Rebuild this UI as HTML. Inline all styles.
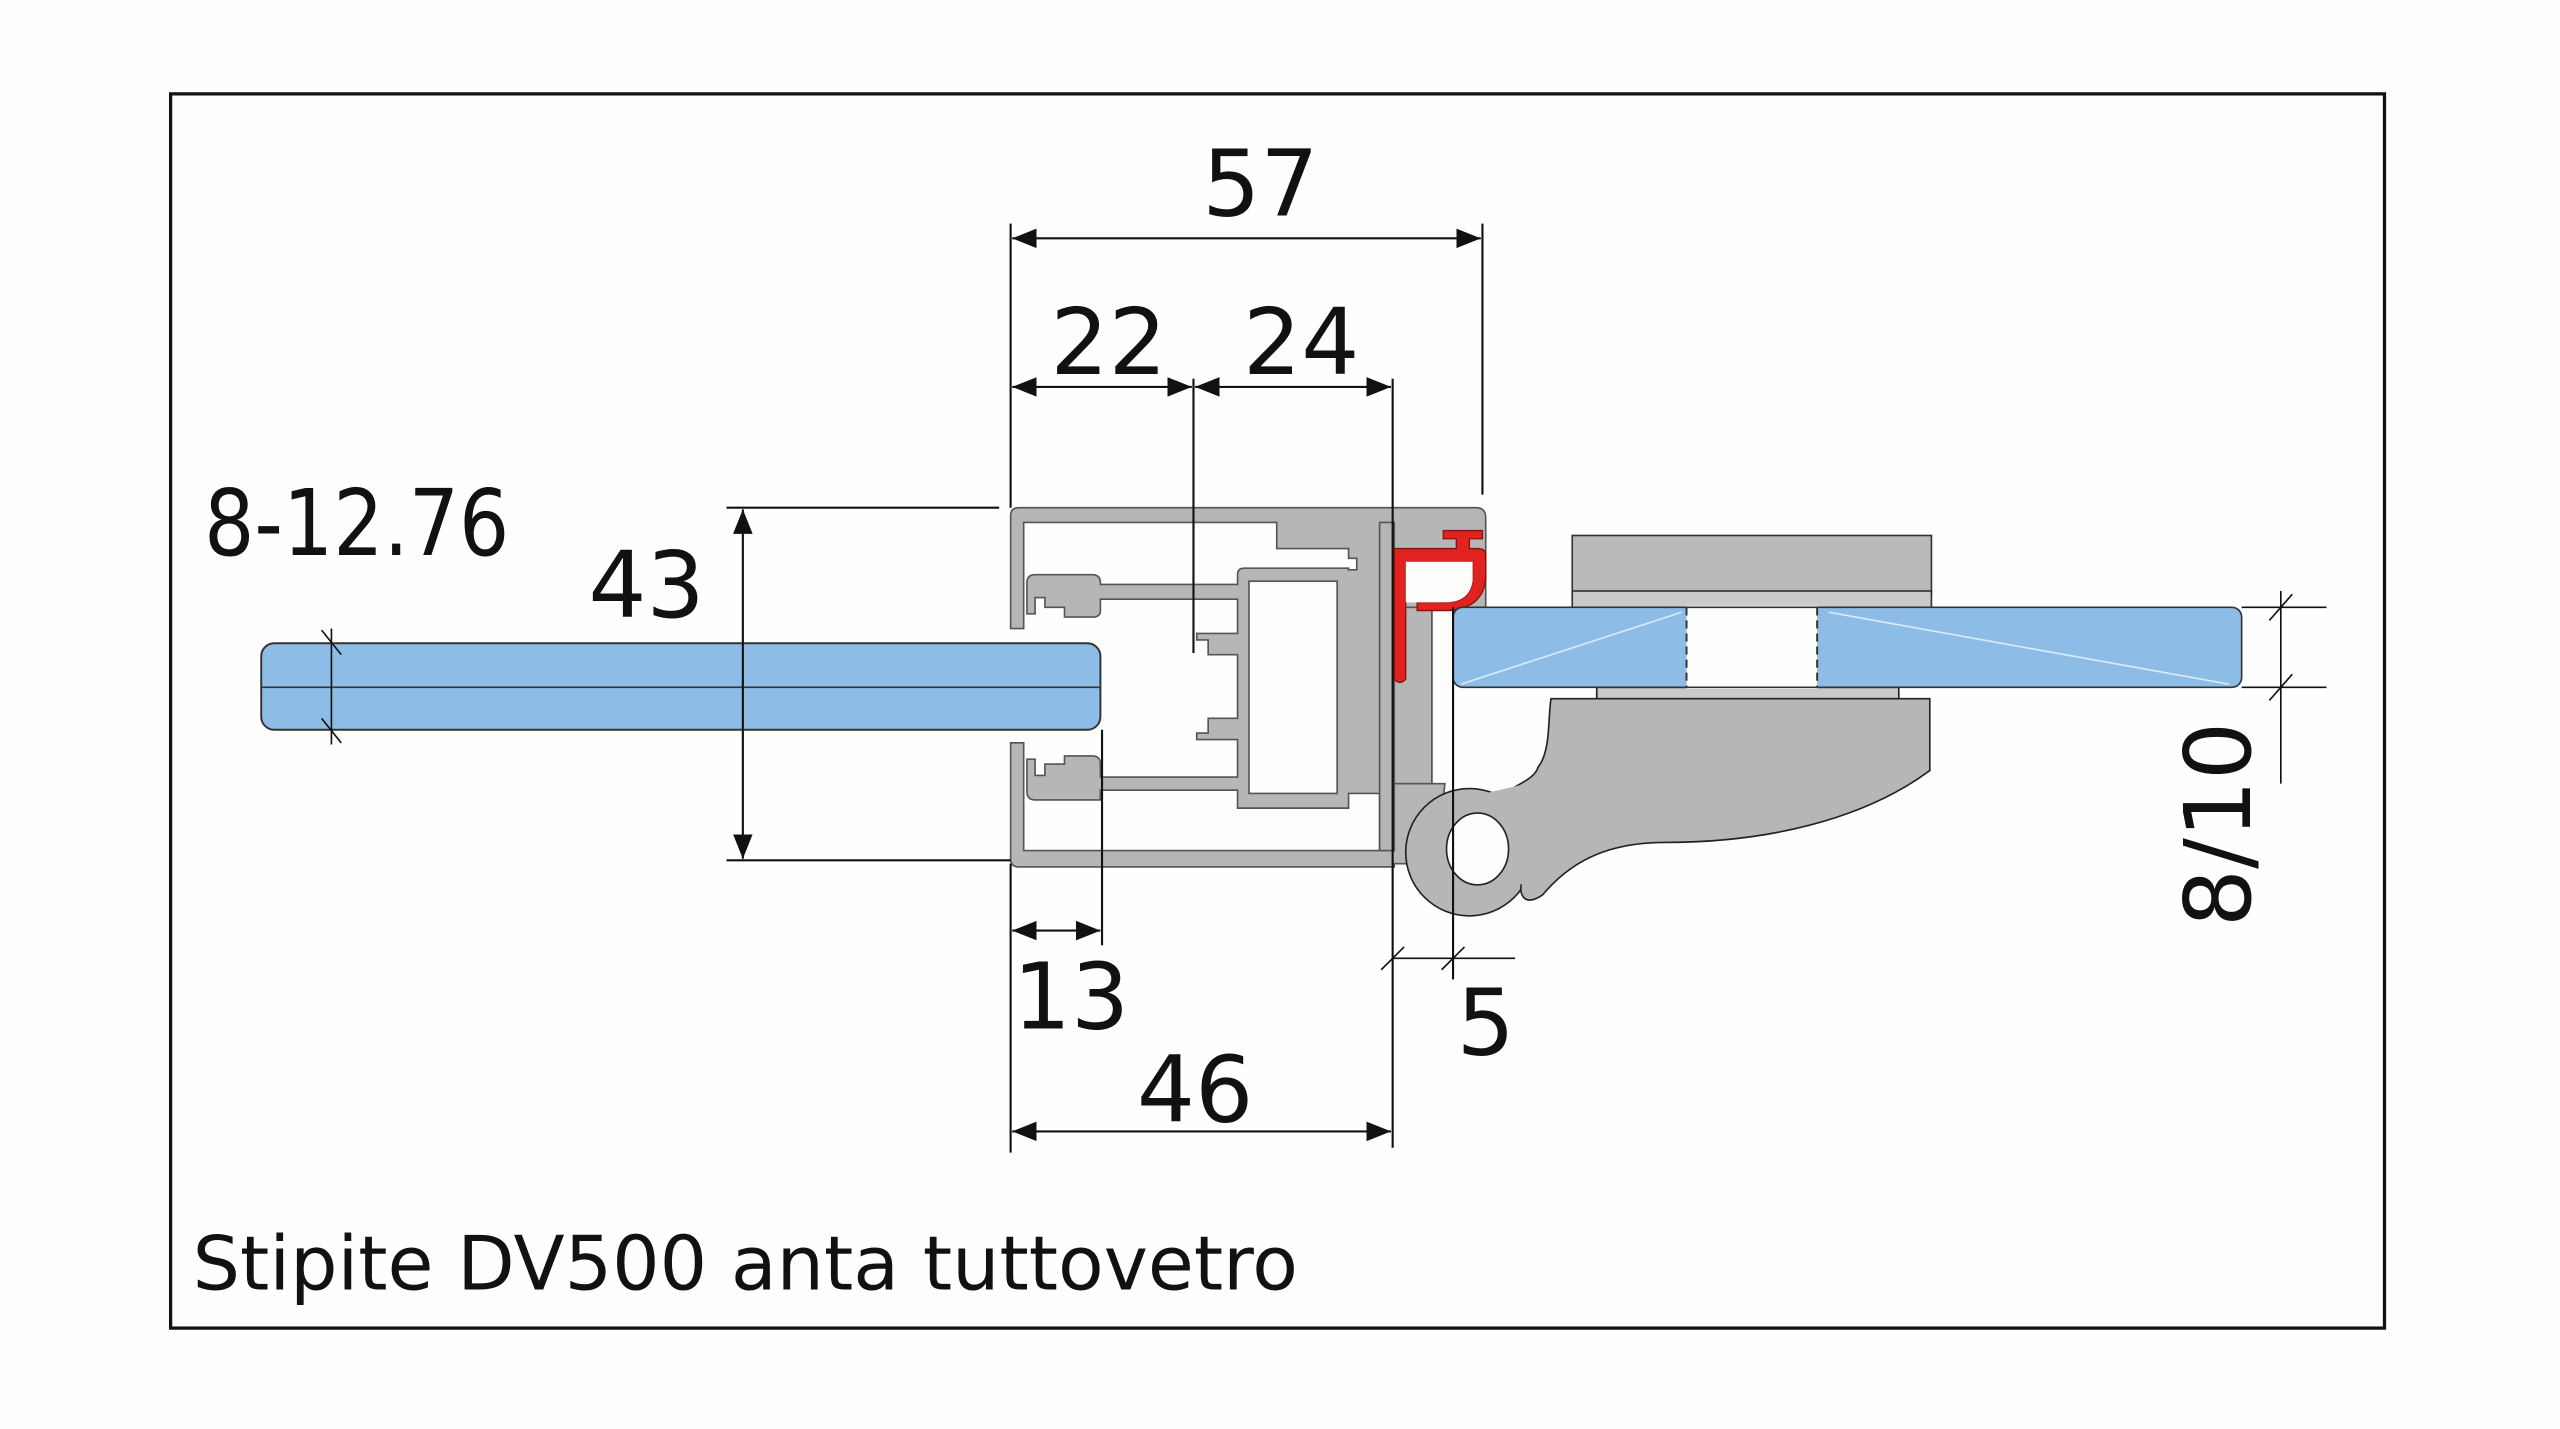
<!DOCTYPE html>
<html><head><meta charset="utf-8"><style>
html,body{margin:0;padding:0;background:#fdfdfc;}
svg{display:block;}
text{font-family:"DejaVu Sans","Liberation Sans",sans-serif;fill:#111;}
</style></head><body>
<svg width="2560" height="1429" viewBox="0 0 1568 875.3" preserveAspectRatio="none" xmlns="http://www.w3.org/2000/svg">
<defs>
<marker id="a" markerUnits="userSpaceOnUse" markerWidth="16" markerHeight="12" refX="15" refY="6" orient="auto-start-reverse"><path d="M0,0 L15,6 L0,12 Z" fill="#111"/></marker>
</defs>
<rect x="0" y="0" width="1568" height="875.3" fill="#fdfdfc"/>
<rect x="104.5" y="57.5" width="1356" height="756" fill="#fefefe" stroke="#111" stroke-width="2"/>

<!-- left glass -->
<rect x="160" y="394" width="514" height="53" rx="8" fill="#8dbde6" stroke="#333" stroke-width="1.2"/>
<line x1="160" y1="421" x2="674" y2="421" stroke="#333" stroke-width="1"/>

<!-- profile -->
<g stroke="#555" stroke-width="1" fill="#b5b6b8">
<path d="M619,385 L619,316 Q619,311 624,311 L904,311 Q910,311 910,317 L910,372 L877,372 L877,480 L885,480 L880,529 L854,529 L854,531 L624,531 Q619,531 619,526 L619,455 L627,455 L627,521 L845,521 L845,486 L826,486 L826,495 L758,495 L758,484 L674,484 L674,490 L634,490 Q629,490 629,485 L629,465 L634,465 L634,475 L640,475 L640,468 L652,468 L652,463 L669,463 Q674,463 674,468 L674,476 L758,476 L758,453 L733,453 L733,449 L740,449 L740,440 L758,440 L758,401 L740,401 L740,392 L733,392 L733,388 L758,388 L758,367 L674,367 L674,374 Q674,378 669,378 L652,378 L652,372 L640,372 L640,366 L634,366 L634,376 L629,376 L629,357 Q629,352 634,352 L669,352 Q674,352 674,357 L674,358 L758,358 L758,352 Q758,348 762,348 L826,348 L826,349 L831,349 L831,342 L826,342 L826,336 L782,336 L782,320 L627,320 L627,385 Z"/>
<rect x="765" y="356" width="54" height="130" fill="#fdfdfc"/>
<rect x="845" y="320" width="9" height="201"/>
<rect x="854" y="372" width="23" height="108"/>
</g>

<!-- red seal -->
<path d="M854,336 L854,416 Q857.5,420 861,416 L861,344 L902,344 L902,356 Q900,369 885,369 L868,369 L868,374 L888,374 Q910,372 910,352 L910,340 Q910,336 905,336 L900,336 L900,330 L908,330 L908,325 L884,325 L884,330 L892,330 L892,336 Z" fill="#e0231f" stroke="#8a1010" stroke-width="0.8"/>
<path d="M861,344 L902,344 L902,356 Q900,369 885,369 L861,369 Z" fill="#fdfdfc"/>

<!-- upper clamp plate -->
<rect x="963" y="328" width="220" height="36" fill="#b9babc" stroke="#333" stroke-width="1"/>
<rect x="963" y="362" width="220" height="10" fill="#c9cacb" stroke="#333" stroke-width="1"/>

<!-- lower clamp body & hinge -->
<g fill="#b5b6b8" stroke="#222" stroke-width="1">
<rect x="978" y="421" width="185" height="7" fill="#c9cacb"/>
<circle cx="900" cy="522" r="39"/>
<path d="M950,428 L1182,428 L1182,472 C1140,503 1080,516 1020,516 C990,516 965,524 945,548 C935,555 930,550 932,540 L915,490 C925,482 940,478 942,470 C950,460 948,440 950,428 Z"/>
<path d="M905,487 L935,480 L940,540 L915,545 Z" stroke="none"/>
<ellipse cx="905" cy="520" rx="19" ry="22" fill="#fdfdfc"/>
</g>

<!-- right glass -->
<rect x="890" y="372" width="483" height="49" rx="6" fill="#8dbde6" stroke="#333" stroke-width="1"/>
<rect x="1033" y="371" width="80" height="51" fill="#fdfdfc"/>
<line x1="1033" y1="372" x2="1033" y2="421" stroke="#333" stroke-width="1.2" stroke-dasharray="5,3"/>
<line x1="1113" y1="372" x2="1113" y2="421" stroke="#333" stroke-width="1.2" stroke-dasharray="5,3"/>
<line x1="1033" y1="372" x2="1113" y2="372" stroke="#333"/>
<line x1="1033" y1="421" x2="1113" y2="421" stroke="#333"/>
<line x1="895" y1="419" x2="1030" y2="375" stroke="#d6ebfb" stroke-width="1"/>
<line x1="1120" y1="375" x2="1365" y2="419" stroke="#d6ebfb" stroke-width="1"/>

<!-- dimension lines -->
<g stroke="#111" stroke-width="1.3" fill="none">
<line x1="619" y1="137" x2="619" y2="311"/>
<line x1="908" y1="137" x2="908" y2="303"/>
<line x1="620" y1="146" x2="907" y2="146" marker-start="url(#a)" marker-end="url(#a)"/>
<line x1="620" y1="237" x2="730" y2="237" marker-start="url(#a)" marker-end="url(#a)"/>
<line x1="732" y1="237" x2="852" y2="237" marker-start="url(#a)" marker-end="url(#a)"/>
<line x1="731" y1="232" x2="731" y2="400"/>
<line x1="853" y1="232" x2="853" y2="703"/>
<line x1="890" y1="372" x2="890" y2="600"/>
<line x1="445" y1="311" x2="612" y2="311"/>
<line x1="445" y1="527" x2="619" y2="527"/>
<line x1="455" y1="312" x2="455" y2="526" marker-start="url(#a)" marker-end="url(#a)"/>
<line x1="203" y1="385" x2="203" y2="456" stroke-width="1"/>
<line x1="197" y1="386" x2="209" y2="401" stroke-width="1"/>
<line x1="197" y1="440" x2="209" y2="455" stroke-width="1"/>
<line x1="619" y1="529" x2="619" y2="706"/>
<line x1="675" y1="447" x2="675" y2="579"/>
<line x1="620" y1="570" x2="674" y2="570" marker-start="url(#a)" marker-end="url(#a)"/>
<line x1="620" y1="693" x2="852" y2="693" marker-start="url(#a)" marker-end="url(#a)"/>
<line x1="853" y1="587" x2="928" y2="587" stroke-width="1"/>
<line x1="846" y1="594" x2="860" y2="580" stroke-width="1"/>
<line x1="883" y1="594" x2="897" y2="580" stroke-width="1"/>
<line x1="1373" y1="372" x2="1425" y2="372" stroke-width="1"/>
<line x1="1373" y1="421" x2="1425" y2="421" stroke-width="1"/>
<line x1="1397" y1="362" x2="1397" y2="480" stroke-width="1"/>
<line x1="1390" y1="380" x2="1404" y2="364" stroke-width="1"/>
<line x1="1390" y1="429" x2="1404" y2="413" stroke-width="1"/>
</g>

<!-- labels -->
<g font-size="56">
<text x="772" y="132" text-anchor="middle">57</text>
<text x="679" y="229" text-anchor="middle">22</text>
<text x="797" y="229" text-anchor="middle">24</text>
<text x="125" y="340" textLength="187" lengthAdjust="spacingAndGlyphs">8-12.76</text>
<text x="396" y="378" text-anchor="middle">43</text>
<text x="656" y="630" text-anchor="middle">13</text>
<text x="732" y="687" text-anchor="middle">46</text>
<text x="910" y="646" text-anchor="middle">5</text>
<text transform="translate(1378,505) rotate(-90)" text-anchor="middle">8/10</text>
</g>
<text x="118" y="790" font-size="46" textLength="677" lengthAdjust="spacingAndGlyphs">Stipite DV500 anta tuttovetro</text>
</svg>
</body></html>
